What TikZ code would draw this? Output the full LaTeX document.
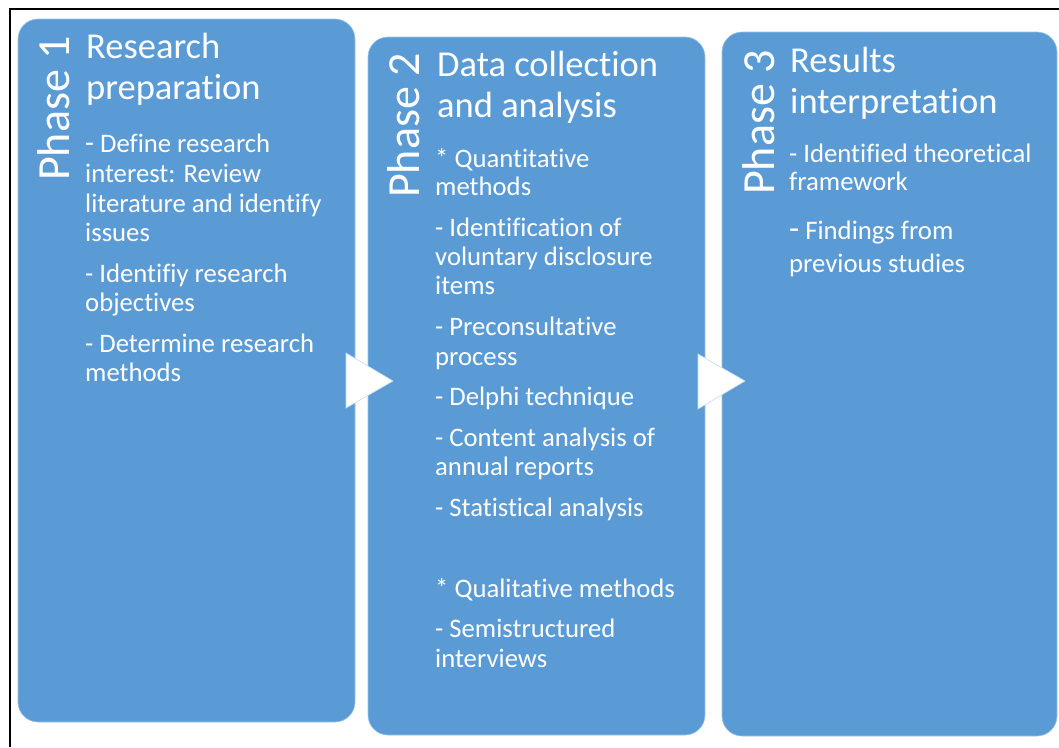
\documentclass[tikz,border=0pt]{standalone}
\usepackage{fontspec}
\setmainfont[Ligatures=NoCommon]{Carlito}
\definecolor{phaseblue}{HTML}{5B9BD5}
\begin{document}
\begin{tikzpicture}[x=1pt,y=-1pt,
  phasebox/.style={fill=phaseblue, draw=phaseblue!60!white, line width=0.6pt,
    rounded corners=20pt, inner sep=0pt, outer sep=0pt},
  phaselabel/.style={rotate=90, anchor=base west, inner sep=0pt, text=white,
    font=\fontsize{46}{46}\selectfont},
  titleline/.style={anchor=base west, inner sep=0pt, text=white,
    font=\fontsize{36.5}{36.5}\selectfont},
  bodyline/.style={anchor=base west, inner sep=0pt, text=white,
    font=\fontsize{26.7}{26.7}\selectfont},
  chevron/.style={fill=white, draw=phaseblue!35!white, line width=0.6pt}]
\useasboundingbox (0,0) rectangle (1059,747);
% outer frame (open to the right and bottom)
\draw[line width=2.6pt] (1059,9) -- (10,9) -- (10,747);

% the three phase panels
\node[phasebox, minimum width=337pt, minimum height=703pt] (box1) at (186.5,370.5) {};
\node[phasebox, minimum width=337pt, minimum height=698pt] (box2) at (536.5,386) {};
\node[phasebox, minimum width=335pt, minimum height=704pt] (box3) at (889.5,384) {};

% chevrons between panels
\filldraw[chevron] (346,353) -- (393,381) -- (346,408) -- cycle;
\filldraw[chevron] (698,354) -- (745,381) -- (698,409) -- cycle;

% Phase 1
\node[phaselabel] (p1) at (69,181) {Phase 1};
\node[titleline] (t1a) at (86,58) {Research};
\node[titleline] (t1b) at (86,99) {preparation};
\node[bodyline] (a1) at (85,152) {{\fontsize{29}{29}\selectfont -} Define research};
\node[bodyline] (a2) at (85,182.5) {interest: Review};
\node[bodyline] (a3) at (85,212) {literature and identify};
\node[bodyline] (a4) at (85,241.5) {issues};
\node[bodyline] (a5) at (85,282) {- Identifiy research};
\node[bodyline] (a6) at (85,311) {objectives};
\node[bodyline] (a7) at (85,352) {- Determine research};
\node[bodyline] (a8) at (85,381.5) {methods};

% Phase 2
\node[phaselabel] (p2) at (419,198) {Phase 2};
\node[titleline] (t2a) at (437,76) {Data collection};
\node[titleline] (t2b) at (437,117) {and analysis};
\node[bodyline] (b1) at (435,167) {* Quantitative};
\node[bodyline] (b2) at (435,195) {methods};
\node[bodyline] (b3) at (435,236) {- Identification of};
\node[bodyline] (b4) at (435,265) {voluntary disclosure};
\node[bodyline] (b5) at (435,294) {items};
\node[bodyline] (b6) at (435,335) {- Preconsultative};
\node[bodyline] (b7) at (435,365) {process};
\node[bodyline] (b8) at (435,405) {- Delphi technique};
\node[bodyline] (b9) at (435,446) {- Content analysis of};
\node[bodyline] (b10) at (435,475) {annual reports};
\node[bodyline] (b11) at (435,516) {- Statistical analysis};
\node[bodyline] (b12) at (435,597) {* Qualitative methods};
\node[bodyline] (b13) at (435,637) {- Semistructured};
\node[bodyline] (b14) at (435,667) {interviews};

% Phase 3
\node[phaselabel] (p3) at (774,195) {Phase 3};
\node[titleline] (t3a) at (790,72) {Results};
\node[titleline] (t3b) at (790,113) {interpretation};
\node[bodyline] (c1) at (789,162) {- Identified theoretical};
\node[bodyline] (c2) at (789,190) {framework};
\node[bodyline] (c3) at (789,239) {{\fontsize{33}{33}\selectfont -} Findings from};
\node[bodyline] (c4) at (789,272) {previous studies};
\end{tikzpicture}
\end{document}
